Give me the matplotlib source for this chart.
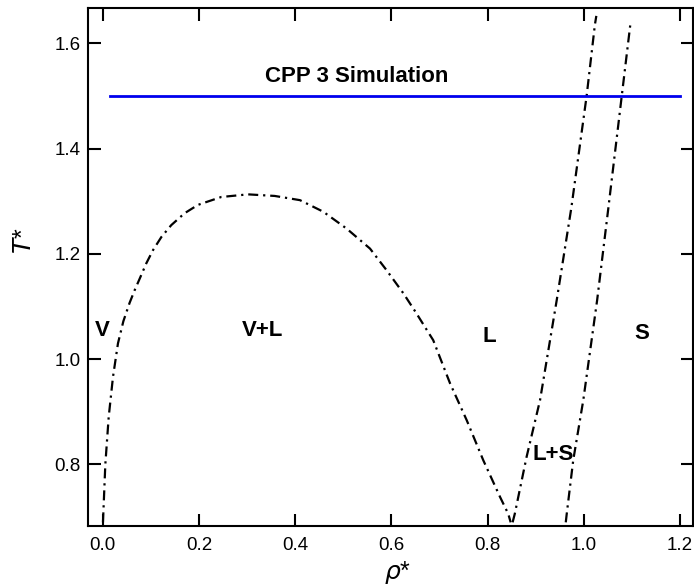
import matplotlib
matplotlib.use("Agg")
import matplotlib.pyplot as plt

plt.rcParams['font.family'] = ['Liberation Sans', 'DejaVu Sans']

# Vapor-liquid coexistence (binodal) curve
vl_rho = [0.0006, 0.0055, 0.0125, 0.0214, 0.0318, 0.043, 0.056, 0.0665, 0.077, 0.0907,
          0.1046, 0.122, 0.1426, 0.170, 0.198, 0.2465, 0.302, 0.3575, 0.410, 0.4585,
          0.507, 0.5556, 0.590, 0.625, 0.650, 0.687, 0.722, 0.7566, 0.791, 0.826,
          0.843, 0.848]
vl_T = [0.690, 0.800, 0.890, 0.966, 1.030, 1.072, 1.107, 1.131, 1.153, 1.182,
        1.207, 1.232, 1.2546, 1.277, 1.293, 1.308, 1.313, 1.310, 1.302, 1.280,
        1.248, 1.210, 1.169, 1.125, 1.090, 1.036, 0.954, 0.884, 0.808, 0.738,
        0.706, 0.690]

# Freezing line
fr_rho = [0.852, 0.8565, 0.881, 0.909, 0.9437, 0.974, 1.006, 1.023, 1.026]
fr_T = [0.690, 0.706, 0.814, 0.922, 1.112, 1.287, 1.501, 1.635, 1.652]

# Melting line
me_rho = [0.9625, 0.9645, 0.978, 0.9989, 1.0277, 1.051, 1.079, 1.0975]
me_T = [0.690, 0.706, 0.808, 0.922, 1.112, 1.287, 1.501, 1.642]

# Simulation isotherm
sim_rho = [0.015, 1.2]
sim_T = [1.5, 1.5]

regions = ["V", "V+L", "L", "S", "L+S"]
region_x = [0.0, 0.333, 0.803, 1.121, 0.936]
region_y = [1.055, 1.055, 1.043, 1.049, 0.818]

fig = plt.figure(figsize=(6.94, 5.88), dpi=100)
ax = fig.add_axes([0.1268, 0.1054, 0.8718, 0.881])

dash = (0, (4.5, 2.2, 1.0, 2.2))
for xs, ys in [(vl_rho, vl_T), (fr_rho, fr_T), (me_rho, me_T)]:
    ax.plot(xs, ys, color='black', lw=1.6, linestyle=dash,
            solid_joinstyle='round', dash_capstyle='butt')
ax.plot(sim_rho, sim_T, color='#0000ee', lw=2)

ax.text(0.527, 1.536, "CPP 3 Simulation", fontsize=16, fontweight='bold',
        ha='center', va='center')
for lab, x, y in zip(regions, region_x, region_y):
    ax.text(x, y, lab, fontsize=16, fontweight='bold', ha='center', va='center')

ax.set_xlim(-0.0305, 1.227)
ax.set_ylim(0.683, 1.667)
ax.set_xticks([0.0, 0.2, 0.4, 0.6, 0.8, 1.0, 1.2])
ax.set_yticks([0.8, 1.0, 1.2, 1.4, 1.6])
ax.xaxis.set_major_formatter(matplotlib.ticker.FormatStrFormatter('%.1f'))
ax.yaxis.set_major_formatter(matplotlib.ticker.FormatStrFormatter('%.1f'))
ax.tick_params(direction='in', length=9, width=1.5, labelsize=13.5, colors='black',
               top=True, right=True, labeltop=False, labelright=False)
ax.tick_params(axis='x', pad=8)
ax.tick_params(axis='y', pad=5.5)
for s in ax.spines.values():
    s.set_linewidth(1.5)

ax.set_xlabel(r"$\rho$*", fontsize=18)
ax.set_ylabel(r"$T$*", fontsize=18)
ax.xaxis.set_label_coords(0.512, -0.063)
ax.yaxis.set_label_coords(-0.086, 0.55)

fig.savefig("out.png", dpi=100)
